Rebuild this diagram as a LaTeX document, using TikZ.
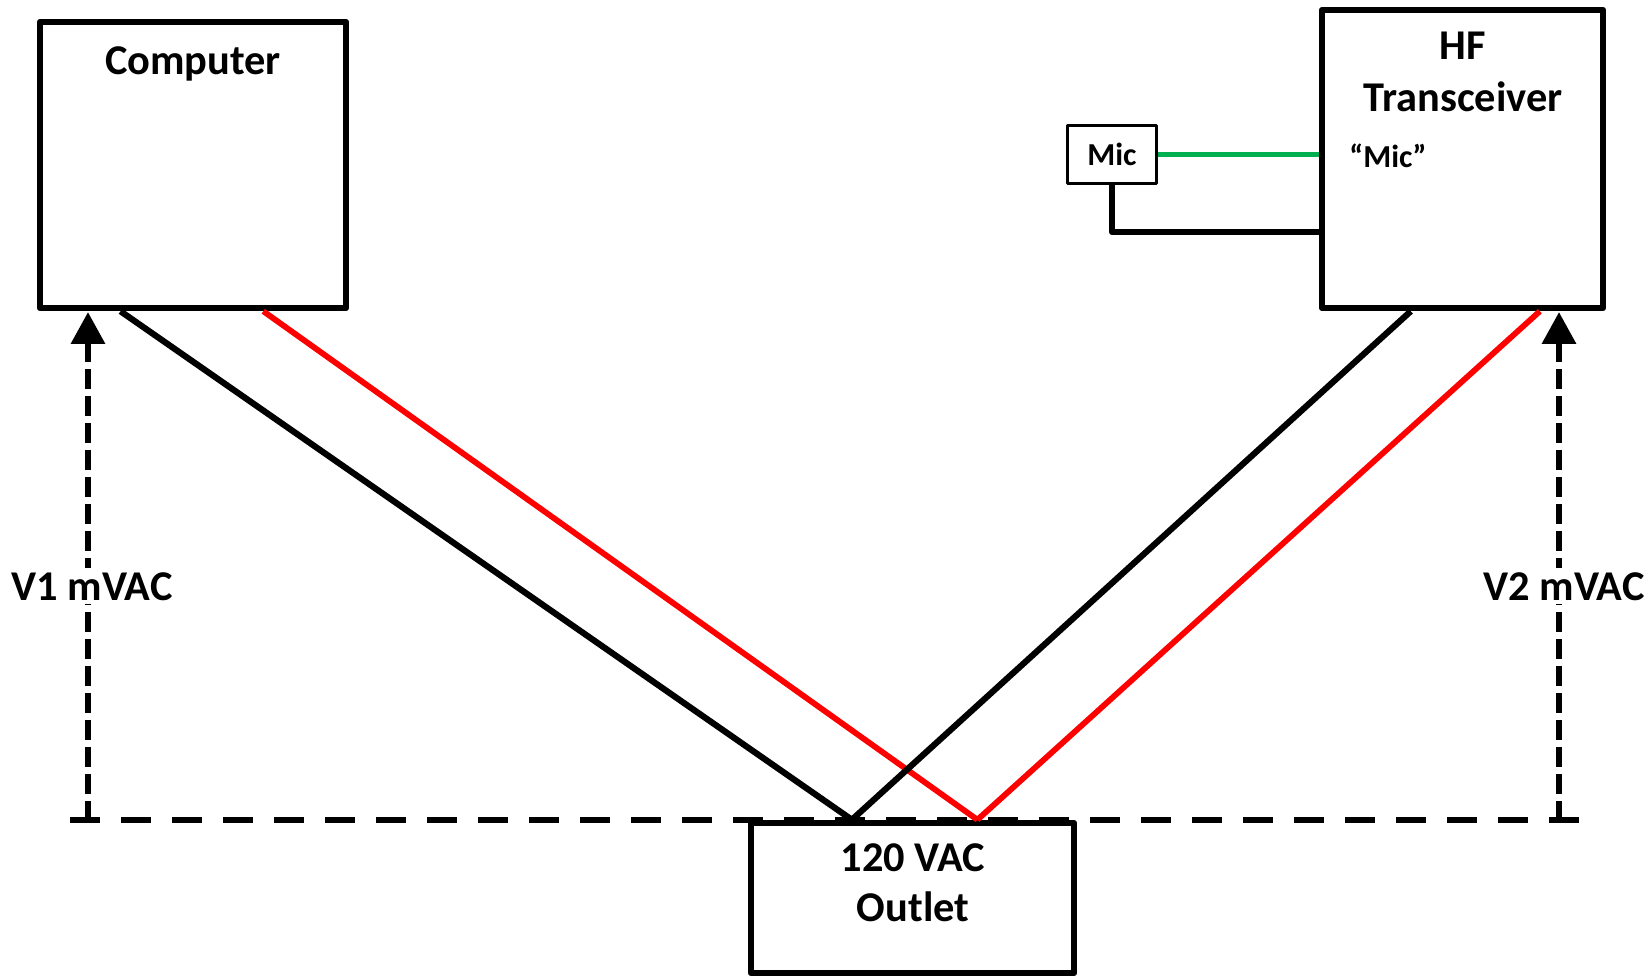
\documentclass[tikz,border=0pt]{standalone}
\usepackage{fontspec}
\setmainfont{Carlito}
\usetikzlibrary{arrows.meta,calc}
\definecolor{micgreen}{RGB}{0,176,80}

\begin{document}
\begin{tikzpicture}[x=0.5pt, y=-0.5pt, line join=round,
  font=\bfseries\fontsize{21.2pt}{25pt}\selectfont,
  unit/.style={draw, line width=3.25pt, fill=white, inner sep=0pt},
  small/.style={font=\bfseries\fontsize{16pt}{19pt}\selectfont},
  blk/.style={line width=3.1pt},
  hot/.style={line width=2.9pt, draw=red},
  sig/.style={line width=2.4pt, draw=micgreen},
  meas/.style={line width=3.25pt, dash pattern=on 10pt off 3.5pt},
  volt/.style={fill=white, inner sep=2pt, anchor=base},
  ]
  \useasboundingbox (0,0) rectangle (1650,978);

  % boxes
  \node[unit, minimum width=153pt, minimum height=143pt] (comp) at (193,165) {};
  \node[anchor=base] (comptxt) at (193,75) {Computer};
  \node[unit, minimum width=140.5pt, minimum height=149pt] (trans) at (1462.5,159) {};
  \node[anchor=base] (hftxt) at (1463,60) {HF};
  \node[anchor=base] (trxtxt) at (1463,112) {Transceiver};
  \node[small, anchor=base west, inner sep=0pt] (jack) at (1349,168) {“Mic”};
  \node[unit, small, line width=1.4pt, minimum width=44.5pt, minimum height=29pt] (mic) at (1112,154.5) {Mic};
  \node[unit, minimum width=161.5pt, minimum height=75pt] (outlet) at (912.5,898) {};
  \node[anchor=base] (outtxt1) at (913,871) {120 VAC};
  \node[anchor=base] (outtxt2) at (913,921) {Outlet};

  % cable ends
  \coordinate (compN) at ($(comp.south west)!0.268!(comp.south east)$);
  \coordinate (compL) at ($(comp.south west)!0.725!(comp.south east)$);
  \coordinate (transN) at ($(trans.south west)!0.32!(trans.south east)$);
  \coordinate (transL) at ($(trans.south west)!0.769!(trans.south east)$);
  \coordinate (outN) at ($(outlet.north west)!0.316!(outlet.north east)$);
  \coordinate (outL) at ($(outlet.north west)!0.697!(outlet.north east)$);

  \draw[blk] (compN) -- (outN);
  \draw[hot] (compL) -- (outL);
  \draw[blk] (transN) -- (outN);
  \draw[hot] (transL) -- (outL);

  \draw[sig] (mic.east) -- (mic.east -| trans.west);
  \draw[blk] (mic.south) |- (trans.west |- 0,232);

  % ground reference and meters
  \coordinate (v1tip) at (88,312);
  \coordinate (v1foot) at (88,820);
  \coordinate (v2tip) at (1559,312);
  \coordinate (v2foot) at (1559,820);
  \coordinate (gndL) at (70,820);
  \coordinate (gndR) at (1588,820);

  \draw[meas, dash pattern=on 15pt off 10.5pt] (gndL) -- (gndR);
  \draw[meas, {Triangle[length=16pt,width=16.5pt]}-] (v1tip) -- (v1foot);
  \draw[meas, {Triangle[length=16pt,width=16.5pt]}-] (v2tip) -- (v2foot);
%  \draw[meas] (v2foot) -- (gndR);
  \node[volt] (v1) at (92,600) {V1 mVAC};
  \node[volt] (v2) at (1564,600) {V2 mVAC};
\end{tikzpicture}
\end{document}
